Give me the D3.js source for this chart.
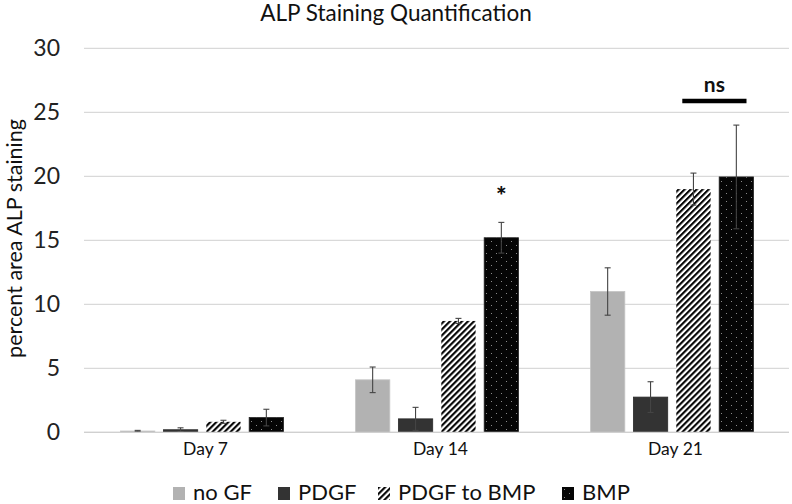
<!DOCTYPE html>
<html>
<head>
<meta charset="utf-8">
<script src="https://cdn.jsdelivr.net/npm/d3@7"></script>
<style>
  html, body { margin: 0; padding: 0; background: #fff; }
  svg { display: block; font-family: Lato, "Open Sans", sans-serif; }
</style>
</head>
<body>
<svg id="chart" width="792" height="504"></svg>
<script>
const days = ["Day 7", "Day 14", "Day 21"];
const seriesNames = ["no GF", "PDGF", "PDGF to BMP", "BMP"];
const noGF       = [0.1, 4.1, 11.0];
const noGFErr    = [0.05, 1.0, 1.85];
const pdgf       = [0.2, 1.05, 2.75];
const pdgfErr    = [0.15, 0.9, 1.2];
const pdgfToBmp  = [0.82, 8.7, 19.0];
const pdgfToBmpErr = [0.12, 0.2, 1.25];
const bmp        = [1.15, 15.2, 19.95];
const bmpErr     = [0.65, 1.2, 4.05];
const yTicks     = [0, 5, 10, 15, 20, 25, 30];

const values = [noGF, pdgf, pdgfToBmp, bmp];
const errors = [noGFErr, pdgfErr, pdgfToBmpErr, bmpErr];

const svg = d3.select("#chart");
const plotLeft = 84, plotRight = 789, plotTop = 48.3, plotBottom = 432.3;

const x0 = d3.scaleBand().domain(days).range([plotLeft, plotRight]).padding(0);
const x1 = d3.scaleBand().domain(seriesNames).range([36.5, 199.5]).paddingInner(0.2).paddingOuter(0);
const y = d3.scaleLinear().domain([0, 30]).range([plotBottom, plotTop]);

// patterns
const defs = svg.append("defs");
const hatch = defs.append("pattern").attr("id", "hatch")
  .attr("patternUnits", "userSpaceOnUse").attr("width", 4.25).attr("height", 10)
  .attr("patternTransform", "rotate(45)");
hatch.append("rect").attr("width", 4.25).attr("height", 10).attr("fill", "#fff");
hatch.append("rect").attr("x", 0).attr("width", 2.1).attr("height", 10).attr("fill", "#000");

const dots = defs.append("pattern").attr("id", "dots")
  .attr("patternUnits", "userSpaceOnUse").attr("width", 10).attr("height", 8);
dots.append("rect").attr("width", 10).attr("height", 8).attr("fill", "#050505");
dots.append("rect").attr("x", 2).attr("y", 1).attr("width", 1).attr("height", 1).attr("fill", "#8a8a8a");
dots.append("rect").attr("x", 7).attr("y", 5).attr("width", 1).attr("height", 1).attr("fill", "#8a8a8a");

const fills = ["#b2b2b2", "#333333", "url(#hatch)", "url(#dots)"];
const strokes = ["#c4c4c4", "#2a2a2a", "none", "#222"];

// gridlines
svg.append("g").selectAll("line").data(yTicks).join("line")
  .attr("x1", plotLeft).attr("x2", plotRight)
  .attr("y1", d => y(d)).attr("y2", d => y(d))
  .attr("stroke", "#d9d9d9").attr("stroke-width", 1.2);

// y axis labels
const yAxis = svg.append("g").attr("transform", `translate(${plotLeft},0)`)
  .call(d3.axisLeft(y).tickValues(yTicks).tickSize(0).tickPadding(24));
yAxis.select(".domain").remove();
yAxis.selectAll("text").attr("font-size", 23).attr("fill", "#222").attr("font-family", "Lato, sans-serif");

// x axis labels
const xAxis = svg.append("g").attr("transform", `translate(4,${plotBottom})`)
  .call(d3.axisBottom(x0).tickSize(0).tickPadding(10));
xAxis.select(".domain").remove();
xAxis.selectAll("text").attr("font-size", 17.5).attr("fill", "#111").attr("font-family", "Lato, sans-serif");

// bars
const groups = svg.append("g").selectAll("g").data(days).join("g")
  .attr("transform", d => `translate(${x0(d)},0)`);

groups.each(function(day, di) {
  const g = d3.select(this);
  seriesNames.forEach((s, si) => {
    const v = values[si][di];
    g.append("rect")
      .attr("x", x1(s)).attr("width", x1.bandwidth())
      .attr("y", y(v)).attr("height", y(0) - y(v))
      .attr("fill", fills[si])
      .attr("stroke", strokes[si]).attr("stroke-width", 0.8);
  });
  seriesNames.forEach((s, si) => {
    const v = values[si][di], e = errors[si][di];
    const cx = x1(s) + x1.bandwidth() / 2;
    const eg = g.append("g").attr("stroke", "#444").attr("stroke-width", 1.1);
    eg.append("line").attr("x1", cx).attr("x2", cx).attr("y1", y(v + e)).attr("y2", y(Math.max(0, v - e)));
    eg.append("line").attr("x1", cx - 3).attr("x2", cx + 3).attr("y1", y(v + e)).attr("y2", y(v + e));
    eg.append("line").attr("x1", cx - 3).attr("x2", cx + 3).attr("y1", y(Math.max(0, v - e))).attr("y2", y(Math.max(0, v - e)));
  });
});

// baseline
svg.append("line").attr("x1", plotLeft).attr("x2", plotRight).attr("y1", y(0)).attr("y2", y(0))
  .attr("stroke", "#d0d0d0").attr("stroke-width", 1.2);

// significance marks
const starX = x0("Day 14") + x1("BMP") + x1.bandwidth() / 2;
svg.append("text").attr("x", starX).attr("y", y(bmp[1] + bmpErr[1]) - 17)
  .attr("text-anchor", "middle").attr("font-size", 25).attr("font-weight", "900").attr("fill", "#111")
  .text("*");

const nsX1 = x0("Day 21") + x1("PDGF to BMP") + 6;
const nsX2 = x0("Day 21") + x1("BMP") + x1.bandwidth() - 7;
svg.append("line").attr("x1", nsX1).attr("x2", nsX2).attr("y1", 101).attr("y2", 101)
  .attr("stroke", "#000").attr("stroke-width", 4.5);
svg.append("text").attr("x", (nsX1 + nsX2) / 2).attr("y", 92)
  .attr("text-anchor", "middle").attr("font-size", 21).attr("font-weight", "bold").attr("fill", "#111")
  .text("ns");

// title
svg.append("text").attr("x", 396).attr("y", 21).attr("text-anchor", "middle")
  .attr("font-size", 22.5).attr("fill", "#111").text("ALP Staining Quantification");

// y title
svg.append("text").attr("transform", `translate(22,${(110 + 367) / 2}) rotate(-90)`)
  .attr("text-anchor", "middle").attr("font-size", 21.5).attr("fill", "#111")
  .text("percent area ALP staining");

// legend
const legX = [173, 278, 378, 562];
const leg = svg.append("g").selectAll("g").data(seriesNames).join("g")
  .attr("transform", (d, i) => `translate(${legX[i]},0)`);
leg.append("rect").attr("x", 0).attr("y", 487).attr("width", 12).attr("height", 13)
  .attr("fill", (d, i) => fills[i]);
leg.append("text").attr("x", 20).attr("y", 500).attr("font-size", 22).attr("fill", "#111")
  .text(d => d);
</script>
</body>
</html>
